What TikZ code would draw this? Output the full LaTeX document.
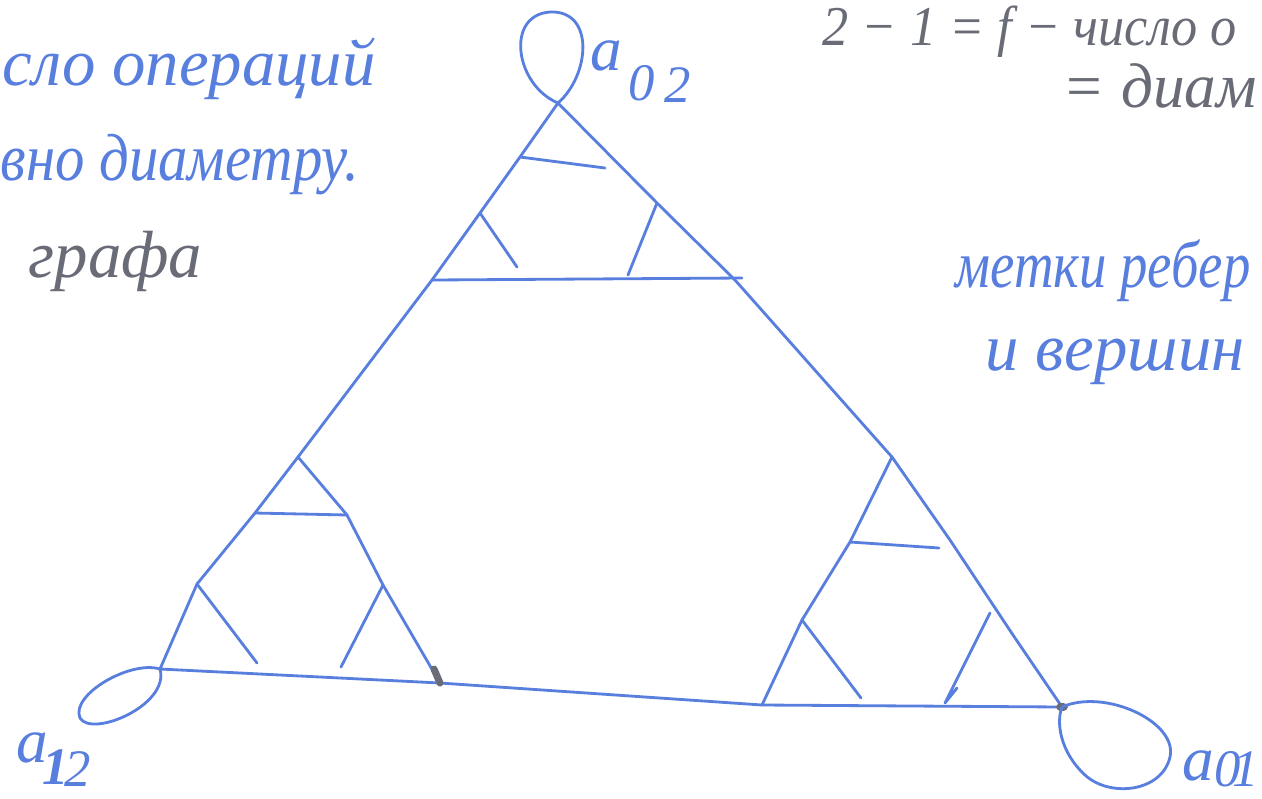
\documentclass[tikz,border=0pt]{standalone}
\usepackage{fontspec}
\setmainfont{Liberation Serif}
\definecolor{pen}{RGB}{88,126,222}
\definecolor{pencil}{RGB}{105,108,118}
\begin{document}
\begin{tikzpicture}[x=0.1mm,y=-0.1mm,
  edge/.style={draw=pen,line width=0.8pt,line cap=round,line join=round},
  hand/.style={font=\fontsize{19}{23}\selectfont\itshape,text=pen,inner sep=0pt,anchor=base west},
  grey/.style={hand,text=pencil},
  lab/.style={font=\fontsize{18}{22}\selectfont\itshape,text=pen,inner sep=0pt,anchor=base west},
  dig/.style={font=\fontsize{15}{18}\selectfont\itshape,text=pen,inner sep=0pt,anchor=base west}]
\useasboundingbox[fill=white] (0,0) rectangle (1262,798);
% main vertices
\coordinate (T) at (558,103);
\coordinate (P1) at (432,280);
\coordinate (P2) at (735,280);
\coordinate (P2e) at (742,278);
\coordinate (Q1) at (298,457);
\coordinate (L) at (160,669);
\coordinate (Q2) at (440,683);
\coordinate (S1) at (892,457);
\coordinate (S2) at (762,705);
\coordinate (R) at (1062,707);
% intermediate points
\coordinate (ta) at (520,157);
\coordinate (tb) at (480,213);
\coordinate (tc) at (657,203);
\coordinate (la) at (255,513);
\coordinate (lb) at (197,584);
\coordinate (lc) at (347,515);
\coordinate (ld) at (383,585);
\coordinate (ra) at (950,540);
\coordinate (rb) at (1013,635);
\coordinate (rc) at (850,542);
\coordinate (rd) at (802,620);
\coordinate (re) at (990,613);
% free ends
\coordinate (te) at (605,168);
\coordinate (tf) at (517,267);
\coordinate (tg) at (628,275);
\coordinate (lf) at (257,663);
\coordinate (lg) at (341,667);
\coordinate (rf) at (939,548);
\coordinate (rg) at (861,698);
\coordinate (rh) at (945,703);
\coordinate (ri) at (957,688);
% big triangle
\draw[edge] (T) -- (ta) -- (tb) -- (P1) -- (Q1) -- (la) -- (lb) -- (L);
\draw[edge] (T) -- (tc) -- (P2) -- (S1) -- (ra) -- (rb) -- (R);
\draw[edge] (L) -- (Q2) -- (S2) -- (R);
\draw[edge] (P1) -- (P2e);
% sub-triangle sides
\draw[edge] (Q1) -- (lc) -- (ld) -- (Q2);
\draw[edge] (S1) -- (rc) -- (rd) -- (S2);
% inner strokes
\draw[edge] (ta) -- (te);
\draw[edge] (tb) -- (tf);
\draw[edge] (tc) -- (tg);
\draw[edge] (la) -- (lc);
\draw[edge] (lb) -- (lf);
\draw[edge] (ld) -- (lg);
\draw[edge] (rc) -- (rf);
\draw[edge] (rd) -- (rg);
\draw[edge] (re) -- (rh) -- (ri);
% pencil marks
\draw[pencil,line width=2pt,line cap=round] (Q2) -- ++(-6,-14);
\fill[pencil] (R) ellipse [x radius=6, y radius=4];
% loops
\draw[edge] (T) .. controls (515,85) and (505,15) .. (550,12) .. controls (595,10) and (590,75) .. (T);
\draw[edge] (L) .. controls (130,660) and (70,695) .. (80,718) .. controls (92,738) and (170,705) .. (L);
\draw[edge] (R) .. controls (1105,688) and (1178,722) .. (1170,757) .. controls (1162,792) and (1110,798) .. (1085,775) .. controls (1060,752) and (1056,722) .. (R);
% labels
\node[lab] (a02) at (590,70) {a};
\node[dig] (d02a) at (628,100) {0};
\node[dig] (d02b) at (664,102) {2};
\node[lab] (a12) at (16,762) {a};
\node[dig] (d12a) at (42,784) {\textbf{1}};
\node[dig] (d12b) at (64,786) {2};
\node[lab] (a01) at (1182,780) {a};
\node[dig] (d01a) at (1214,786) {0};
\node[dig] (d01b) at (1232,786) {1};
% texts
\node[hand] (t1) at (2,85) {сло операций};
\node[hand] (t2) at (0,180) {\scalebox{0.88}[1]{вно диаметру.}};
\node[grey] (t3) at (28,277) {графа};
\node[grey,font=\fontsize{16}{19}\selectfont\itshape] (t4) at (822,45) {\scalebox{0.93}[1]{2 − 1 = f − число о}};
\node[grey,font=\fontsize{18}{21}\selectfont\itshape] (t5) at (1062,107) {= диам};
\node[hand] (t6) at (955,287) {\scalebox{0.82}[1]{метки ребер}};
\node[hand] (t7) at (985,370) {и вершин};
\end{tikzpicture}
\end{document}
